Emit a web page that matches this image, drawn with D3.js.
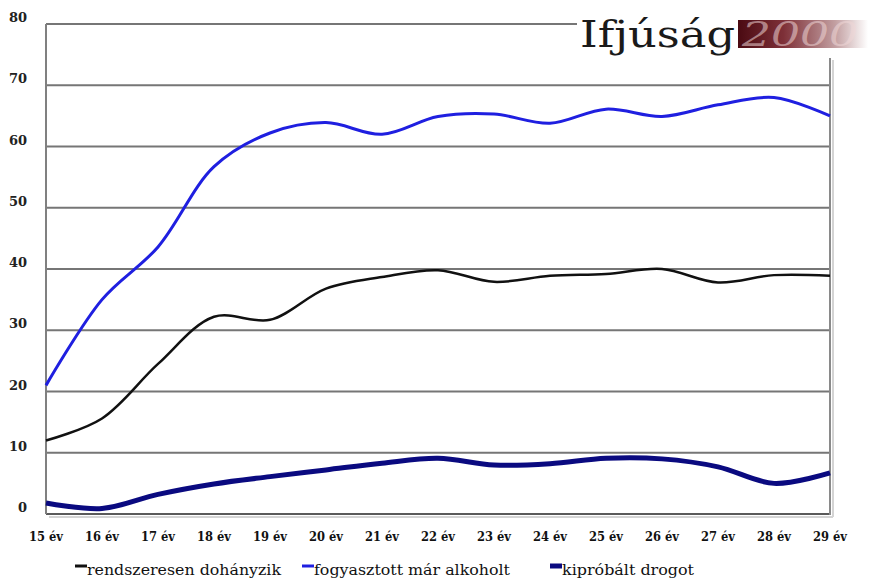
<!DOCTYPE html>
<html>
<head>
<meta charset="utf-8">
<script src="https://cdn.jsdelivr.net/npm/d3@7"></script>
<style>
  body { margin: 0; background: #fff; }
  svg { display: block; }
</style>
</head>
<body>
<svg width="876" height="581"></svg>
<script>
// data
var ages = [15, 16, 17, 18, 19, 20, 21, 22, 23, 24, 25, 26, 27, 28, 29];
var tickLabels = ages.map(function (a) { return a + " év"; });
var yTicks = [0, 10, 20, 30, 40, 50, 60, 70, 80];

var dohanyzik = [12, 15.6, 24.5, 32.2, 31.7, 36.8, 38.7, 39.8, 37.9, 38.9, 39.2, 40, 37.8, 39, 38.9];
var alkohol   = [21, 35, 43.6, 56.7, 62.2, 63.9, 62, 64.9, 65.3, 63.8, 66.1, 64.9, 66.8, 68, 65];
var drog      = [1.8, 0.9, 3.2, 4.9, 6.1, 7.2, 8.3, 9.1, 8, 8.2, 9.1, 9, 7.7, 5, 6.7];

var seriesNames = ["rendszeresen dohányzik", "fogyasztott már alkoholt", "kipróbált drogot"];

var serif = "DejaVu Serif";

var svg = d3.select("svg"),
    width = +svg.attr("width"),
    height = +svg.attr("height");

var margin = {top: 24, right: 46, bottom: 67, left: 46};

var x = d3.scalePoint()
    .domain(ages)
    .range([margin.left, width - margin.right]);

var y = d3.scaleLinear()
    .domain([0, 80])
    .range([height - margin.bottom, margin.top]);

// soft shadow on right and bottom of the frame
svg.append("line")
    .attr("x1", width - margin.right + 3).attr("x2", width - margin.right + 3)
    .attr("y1", 60).attr("y2", y(0) + 3)
    .attr("stroke", "#d4d4d4").attr("stroke-width", 2);
svg.append("line")
    .attr("x1", margin.left + 3).attr("x2", width - margin.right + 3)
    .attr("y1", y(0) + 3).attr("y2", y(0) + 3)
    .attr("stroke", "#d4d4d4").attr("stroke-width", 2);

// gridlines
svg.append("g")
    .selectAll("line")
    .data(yTicks)
    .enter().append("line")
    .attr("x1", margin.left)
    .attr("x2", width - margin.right)
    .attr("y1", function (d) { return y(d); })
    .attr("y2", function (d) { return y(d); })
    .attr("stroke", function (d) { return d == 0 ? "#5a5a5a" : "#767676"; })
    .attr("stroke-width", 2);

// left & right border
svg.append("line")
    .attr("x1", margin.left).attr("x2", margin.left)
    .attr("y1", y(80)).attr("y2", y(0))
    .attr("stroke", "#808080").attr("stroke-width", 2);
svg.append("line")
    .attr("x1", width - margin.right).attr("x2", width - margin.right)
    .attr("y1", y(80)).attr("y2", y(0) + 1)
    .attr("stroke", "#8a8a8a").attr("stroke-width", 2);

// y labels
svg.append("g")
    .selectAll("text")
    .data(yTicks)
    .enter().append("text")
    .attr("x", 27)
    .attr("y", function (d) { return y(d) - 2; })
    .attr("text-anchor", "end")
    .attr("font-family", serif)
    .attr("font-weight", "bold")
    .attr("font-size", 13)
    .attr("fill", "#222")
    .text(function (d) { return d; });

// x labels
svg.append("g")
    .selectAll("text")
    .data(ages)
    .enter().append("text")
    .attr("x", function (d) { return x(d); })
    .attr("y", 541)
    .attr("text-anchor", "middle")
    .attr("font-family", serif)
    .attr("font-weight", "bold")
    .attr("font-size", 12)
    .attr("fill", "#111")
    .attr("textLength", 34)
    .attr("lengthAdjust", "spacingAndGlyphs")
    .text(function (d, i) { return tickLabels[i]; });

// lines
var line = d3.line()
    .x(function (d, i) { return x(ages[i]); })
    .y(function (d) { return y(d); })
    .curve(d3.curveCatmullRom.alpha(0.5));

var series = [
    {name: seriesNames[0], values: dohanyzik, color: "#111", w: 2.5},
    {name: seriesNames[1], values: alkohol, color: "#1f1fe0", w: 3},
    {name: seriesNames[2], values: drog, color: "#0a0a80", w: 5}
];

svg.append("g")
    .selectAll("path")
    .data(series)
    .enter().append("path")
    .attr("d", function (d) { return line(d.values); })
    .attr("fill", "none")
    .attr("stroke", function (d) { return d.color; })
    .attr("stroke-width", function (d) { return d.w; })
    .attr("stroke-linejoin", "round");

// legend
var legendX = [75, 302, 550];
var legendW = [194, 196, 132];
var legend = svg.append("g");
series.forEach(function (s, i) {
    var row = legend.append("g")
        .attr("transform", "translate(" + legendX[i] + ", 571)");
    row.append("line")
        .attr("x1", 0).attr("x2", 12)
        .attr("y1", -5).attr("y2", -5)
        .attr("stroke", s.color)
        .attr("stroke-width", i == 2 ? 5 : 3);
    row.append("text")
        .attr("x", 12)
        .attr("y", 4)
        .attr("font-family", serif)
        .attr("font-size", 14)
        .attr("fill", "#111")
        .attr("textLength", legendW[i])
        .attr("lengthAdjust", "spacingAndGlyphs")
        .text(s.name);
});

// logo
var defs = svg.append("defs");
var grad = defs.append("linearGradient")
    .attr("id", "logoGrad")
    .attr("x1", "0%").attr("x2", "100%");
grad.append("stop").attr("offset", "0%").attr("stop-color", "#4a0a12");
grad.append("stop").attr("offset", "35%").attr("stop-color", "#7e3038");
grad.append("stop").attr("offset", "75%").attr("stop-color", "#c3a0a2");
grad.append("stop").attr("offset", "100%").attr("stop-color", "#ffffff");

svg.append("rect")
    .attr("x", 577).attr("y", 0)
    .attr("width", width - 577).attr("height", 58)
    .attr("fill", "#fff");

svg.append("text")
    .attr("x", 580)
    .attr("y", 47)
    .attr("font-family", serif)
    .attr("font-size", 38)
    .attr("fill", "#1a1a1a")
    .attr("textLength", 155)
    .attr("lengthAdjust", "spacingAndGlyphs")
    .text("Ifjúság");

svg.append("rect")
    .attr("x", 738).attr("y", 20)
    .attr("width", 130).attr("height", 28)
    .attr("fill", "url(#logoGrad)");

svg.append("text")
    .attr("x", 742)
    .attr("y", 46)
    .attr("font-family", serif)
    .attr("font-style", "italic")
    .attr("font-size", 34)
    .attr("fill", "#f0d8d8")
    .attr("fill-opacity", 0.55)
    .attr("textLength", 116)
    .attr("lengthAdjust", "spacingAndGlyphs")
    .text("2000");
</script>
</body>
</html>
